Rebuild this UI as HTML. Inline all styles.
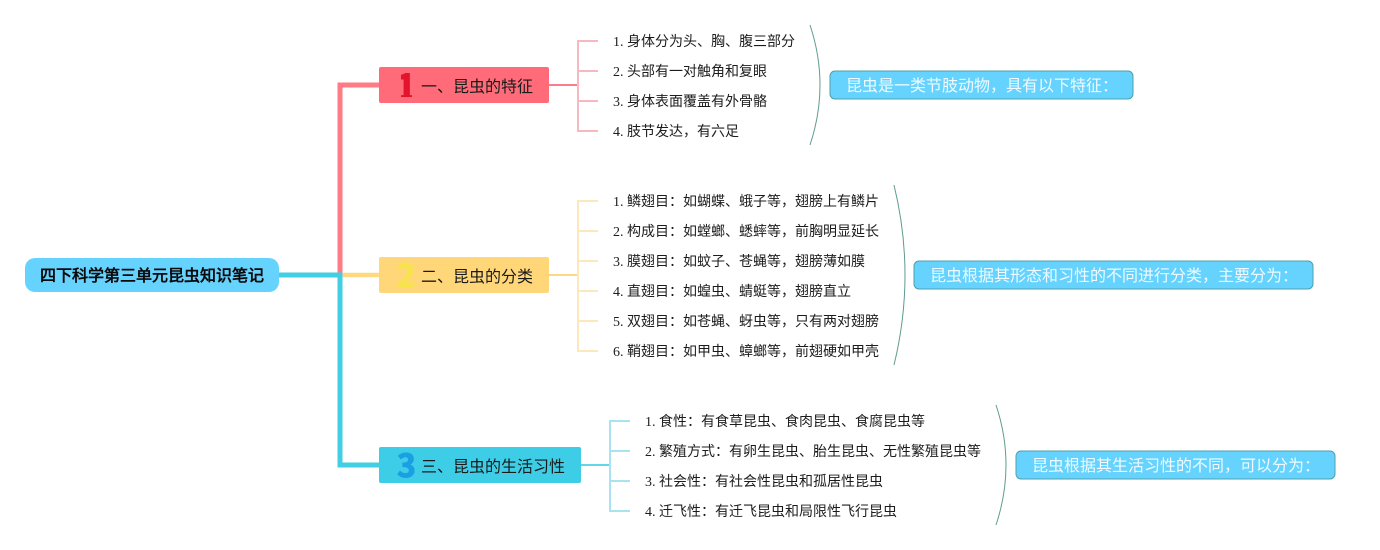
<!DOCTYPE html>
<html lang="zh">
<head>
<meta charset="utf-8">
<style>
html,body{margin:0;padding:0;background:#fff;width:1380px;height:550px;overflow:hidden}
svg{display:block}
text{font-family:"Liberation Sans","WenQuanYi Zen Hei",sans-serif;white-space:pre}
.leaf{font-family:"Liberation Serif","WenQuanYi Zen Hei",serif;font-size:14px;fill:#1c1c1c}
.branch{font-size:16px;fill:#1a1a1a}
.num{font-family:"Noto Sans CJK SC",sans-serif;font-size:32px;font-weight:bold;text-anchor:middle;stroke-width:1}
.note{font-size:16px;fill:#eefaff}
.brace{fill:none;stroke:#5f9c90;stroke-width:1}
.notebox{fill:#66d3ff;stroke:#4f9fa8;stroke-width:1}
</style>
</head>
<body>
<svg width="1380" height="550" viewBox="0 0 1380 550" xmlns="http://www.w3.org/2000/svg">
  <defs>
    <clipPath id="one"><rect x="401" y="70" width="11" height="27"/></clipPath>
  </defs>
  <!-- main connectors -->
  <path d="M340 275V85H379" fill="none" stroke="#ff7b86" stroke-width="5"/>
  <path d="M340 275H379" fill="none" stroke="#ffd97f" stroke-width="4.5"/>
  <path d="M279 275H340V465H379" fill="none" stroke="#42cfe4" stroke-width="5"/>

  <!-- root -->
  <rect x="25" y="258" width="254" height="34" rx="10" fill="#66d3ff"/>
  <text x="40" y="281" font-size="16" font-weight="bold" fill="#0a0a0a">四下科学第三单元昆虫知识笔记</text>

  <!-- branch 1 -->
  <rect x="379" y="67" width="170" height="36" rx="2" fill="#ff6b78"/>
  <text class="num" x="406" y="100" style="font-size:36px" fill="#e2152d" stroke="#e2152d" clip-path="url(#one)">1</text>
  <text class="branch" x="421" y="92">一、昆虫的特征</text>
  <path d="M549 85H578" stroke="#f9808a" stroke-width="2" fill="none"/>
  <path d="M598 41H578V131H598M578 71H598M578 101H598" stroke="#f8b8bf" stroke-width="2" fill="none"/>
  <text class="leaf" x="613" y="46">1. 身体分为头、胸、腹三部分</text>
  <text class="leaf" x="613" y="76">2. 头部有一对触角和复眼</text>
  <text class="leaf" x="613" y="106">3. 身体表面覆盖有外骨骼</text>
  <text class="leaf" x="613" y="136">4. 肢节发达，有六足</text>
  <path class="brace" d="M810 25Q830 85 810 145"/>
  <rect class="notebox" x="830" y="71" width="303" height="28" rx="5"/>
  <text class="note" x="846" y="91">昆虫是一类节肢动物，具有以下特征：</text>

  <!-- branch 2 -->
  <rect x="379" y="257" width="170" height="36" rx="2" fill="#ffd778"/>
  <text class="num" x="406" y="287" fill="#f7e34c" stroke="#f7e34c">2</text>
  <text class="branch" x="421" y="282">二、昆虫的分类</text>
  <path d="M549 275H578" stroke="#fbd987" stroke-width="2" fill="none"/>
  <path d="M598 201H578V351H598M578 231H598M578 261H598M578 291H598M578 321H598" stroke="#fbe8bd" stroke-width="2" fill="none"/>
  <text class="leaf" x="613" y="206">1. 鳞翅目：如蝴蝶、蛾子等，翅膀上有鳞片</text>
  <text class="leaf" x="613" y="236">2. 构成目：如螳螂、蟋蟀等，前胸明显延长</text>
  <text class="leaf" x="613" y="266">3. 膜翅目：如蚊子、苍蝇等，翅膀薄如膜</text>
  <text class="leaf" x="613" y="296">4. 直翅目：如蝗虫、蜻蜓等，翅膀直立</text>
  <text class="leaf" x="613" y="326">5. 双翅目：如苍蝇、蚜虫等，只有两对翅膀</text>
  <text class="leaf" x="613" y="356">6. 鞘翅目：如甲虫、蟑螂等，前翅硬如甲壳</text>
  <path class="brace" d="M894 185Q916 275 894 365"/>
  <rect class="notebox" x="914" y="261" width="399" height="28" rx="5"/>
  <text class="note" x="930" y="281">昆虫根据其形态和习性的不同进行分类，主要分为：</text>

  <!-- branch 3 -->
  <rect x="379" y="447" width="202" height="36" rx="2" fill="#3dcde6"/>
  <text class="num" x="406.5" y="477" fill="#1b9fe4" stroke="#1b9fe4">3</text>
  <text class="branch" x="421" y="472">三、昆虫的生活习性</text>
  <path d="M581 465H610" stroke="#63d5e8" stroke-width="2" fill="none"/>
  <path d="M630 421H610V511H630M610 451H630M610 481H630" stroke="#a8e4ef" stroke-width="2" fill="none"/>
  <text class="leaf" x="645" y="426">1. 食性：有食草昆虫、食肉昆虫、食腐昆虫等</text>
  <text class="leaf" x="645" y="456">2. 繁殖方式：有卵生昆虫、胎生昆虫、无性繁殖昆虫等</text>
  <text class="leaf" x="645" y="486">3. 社会性：有社会性昆虫和孤居性昆虫</text>
  <text class="leaf" x="645" y="516">4. 迁飞性：有迁飞昆虫和局限性飞行昆虫</text>
  <path class="brace" d="M996 405Q1016 465 996 525"/>
  <rect class="notebox" x="1016" y="451" width="319" height="28" rx="5"/>
  <text class="note" x="1032" y="471">昆虫根据其生活习性的不同，可以分为：</text>
</svg>
</body>
</html>
